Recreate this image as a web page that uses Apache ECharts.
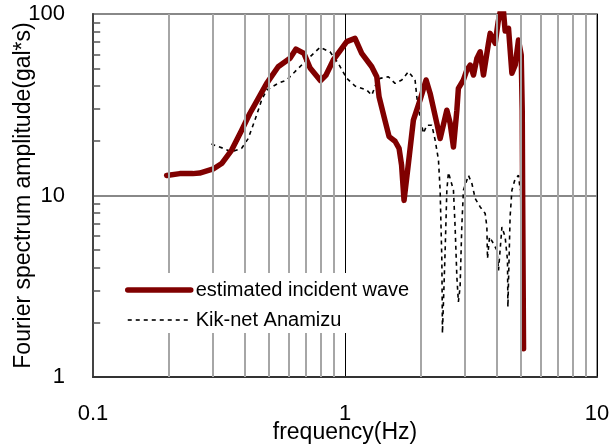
<!DOCTYPE html>
<html>
<head>
<meta charset="utf-8">
<script src="https://cdn.jsdelivr.net/npm/echarts@6/dist/echarts.min.js"></script>
<style>
  html, body { margin: 0; padding: 0; background: #fff; }
  #spectrum-chart { width: 616px; height: 445px; }
</style>
</head>
<body>
<div id="spectrum-chart"></div>
<script>
//---------------------Data---------------------
// estimated incident wave
let incident_freq = [0.196, 0.221, 0.249, 0.265, 0.30, 0.324, 0.355, 0.389, 0.419, 0.453, 0.489, 0.543,
    0.605, 0.639, 0.687, 0.727, 0.80, 0.841, 0.899, 1.016, 1.096, 1.165, 1.277, 1.337, 1.365, 1.429,
    1.496, 1.58, 1.639, 1.677, 1.715, 1.785, 1.868, 1.986, 2.098, 2.177, 2.314, 2.385, 2.536, 2.614,
    2.694, 2.779, 2.818, 2.951, 3.044, 3.14, 3.236, 3.336, 3.439, 3.544, 3.709, 3.767, 3.945, 4.05,
    4.13, 4.256, 4.32, 4.455, 4.596, 4.737, 4.88, 5.003, 5.05, 5.07, 5.11];
let incident_amp = [12.9, 13.2, 13.2, 13.3, 14.0, 15.0, 17.8, 22.9, 28.3, 34.3, 41.5, 51.2,
    57.0, 64.1, 60.7, 50.4, 42.9, 46.1, 55.8, 70.4, 73.4, 60.7, 51.2, 45.1, 35.0, 27.1,
    21.1, 19.9, 18.2, 14.7, 9.4, 15.0, 26.0, 33.6, 43.3, 36.5, 25.0, 20.6, 29.5, 25.0,
    18.5, 29.5, 38.9, 43.3, 49.1, 52.3, 46.1, 56.9, 61.9, 46.1, 68.9, 78.2, 68.9, 90,
    103, 103, 80.6, 83.4, 47.1, 52.3, 71.9, 59.4, 29.5, 9.4, 1.43];
// Kik-net Anamizu record
let anamizu_freq = [0.295, 0.3285, 0.355, 0.389, 0.413, 0.439, 0.467, 0.489, 0.543, 0.587, 0.633, 0.705,
    0.796, 0.872, 0.94, 1.016, 1.096, 1.22, 1.277, 1.337, 1.377, 1.486, 1.58, 1.68, 1.785, 1.897,
    1.927, 1.973, 2.047, 2.112, 2.211, 2.279, 2.349, 2.385, 2.423, 2.436, 2.497, 2.536, 2.573, 2.694,
    2.735, 2.779, 2.818, 2.862, 2.907, 2.951, 3.09, 3.188, 3.286, 3.439, 3.60, 3.656, 3.677, 3.745,
    3.884, 4.007, 4.066, 4.195, 4.32, 4.414, 4.43, 4.52, 4.596, 4.737, 4.88, 4.96];
let anamizu_amp = [19.2, 18.2, 17.4, 18.2, 20.6, 26.0, 33.6, 38.1, 41.5, 43.3, 48.1, 55.8,
    65.5, 61.9, 53.5, 44.2, 40.1, 38.1, 35.7, 42.3, 44.2, 45.1, 41.5, 43.3, 48.1, 43.3,
    35.0, 28.3, 22.0, 24.4, 24.4, 20.2, 15.7, 10.7, 4.40, 1.74, 4.99, 10.7, 13.4, 10.7,
    6.71, 3.56, 2.59, 3.13, 6.71, 10.7, 12.9, 11.65, 9.63, 8.65, 7.96, 6.71, 4.49, 5.91,
    5.43, 4.99, 3.87, 6.71, 5.91, 4.40, 2.43, 7.62, 10.7, 12.4, 12.9, 10.7];
// minor grid / tick positions
let x_minor_ticks = [0.2, 0.3, 0.4, 0.5, 0.6, 0.7, 0.8, 0.9, 2, 3, 4, 5, 6, 7, 8, 9];
let y_minor_ticks = [2, 3, 4, 5, 6, 7, 8, 9, 20, 30, 40, 50, 60, 70, 80, 90];

let incident_data = incident_freq.map((f, i) => [f, incident_amp[i]]);
let anamizu_data = anamizu_freq.map((f, i) => [f, anamizu_amp[i]]);

// Get dom in html
let spectrum_chart_dom = document.getElementById("spectrum-chart");
let spectrum_chart = echarts.init(spectrum_chart_dom);
let chart_font = "Liberation Sans";
//---------------------Series---------------------
let grid_lines_series = {
    type: 'line',
    name: 'grid',
    data: [],
    z: 1,
    silent: true,
    markLine: {
        silent: true,
        symbol: 'none',
        animation: false,
        label: {show: false},
        lineStyle: {color: '#a6a6a6', width: 2, type: 'solid'},
        data: x_minor_ticks.map(v => ({xAxis: v}))
            .concat(y_minor_ticks.map(v => [
                {coord: [0.1, v], lineStyle: {color: '#555', width: 1.5, type: 'solid'}},
                {coord: [0.1068, v]}
            ]))
    }
};
let anamizu_series = {
    type: 'line',
    name: 'Kik-net Anamizu',
    data: anamizu_data,
    symbol: 'none',
    z: 3,
    lineStyle: {color: '#000', width: 1.6, type: [4, 4]},
    itemStyle: {color: '#000'}
};
let incident_series = {
    type: 'line',
    name: 'estimated incident wave',
    data: incident_data,
    symbol: 'none',
    z: 4,
    lineStyle: {color: '#800000', width: 5.5, cap: 'round', join: 'round'},
    itemStyle: {color: '#800000'}
};
//------------------Generate Graph------------------
let spectrum_chart_option = {
    backgroundColor: '#fff',
    animation: false,
    grid: {
        left: 93, right: 19, top: 14, bottom: 68,
        containLabel: false,
        outerBoundsMode: 'none',
        show: true, borderColor: '#999', borderWidth: 2
    },
    legend: {
        data: [
            {name: 'estimated incident wave', lineStyle: {width: 5.5, cap: 'round'}},
            {name: 'Kik-net Anamizu', lineStyle: {width: 1.6}}
        ],
        orient: 'vertical',
        left: 120, top: 273,
        z: 10,
        padding: [7, 7, 3, 5],
        itemGap: 10,
        itemWidth: 63,
        itemHeight: 20,
        backgroundColor: '#fff',
        itemStyle: {opacity: 0},
        textStyle: {fontFamily: chart_font, fontSize: 20, color: '#000'}
    },
    xAxis: {
        type: 'log',
        logBase: 10,
        min: 0.1,
        max: 10,
        name: 'frequency(Hz)',
        nameLocation: 'middle',
        nameGap: 44,
        nameMoveOverlap: false,
        nameTextStyle: {fontFamily: chart_font, fontSize: 23, color: '#000'},
        axisLine: {lineStyle: {color: '#333', width: 2}},
        axisTick: {show: false},
        axisLabel: {fontFamily: chart_font, fontSize: 22, color: '#000', margin: 26},
        splitLine: {show: true, lineStyle: {color: '#000', width: 1}}
    },
    yAxis: {
        type: 'log',
        logBase: 10,
        min: 1,
        max: 100,
        name: 'Fourier spectrum amplitude(gal*s)',
        nameLocation: 'middle',
        nameGap: 58,
        nameMoveOverlap: false,
        nameTextStyle: {fontFamily: chart_font, fontSize: 23, color: '#000'},
        axisLine: {lineStyle: {color: '#444', width: 2}},
        axisTick: {show: false},
        axisLabel: {fontFamily: chart_font, fontSize: 22, color: '#000', margin: 28},
        splitLine: {show: true, lineStyle: {color: '#888', width: 2}}
    },
    series: [grid_lines_series, anamizu_series, incident_series]
};
if (spectrum_chart_option && typeof spectrum_chart_option === "object") {
    spectrum_chart.setOption(spectrum_chart_option, true);
}
</script>
</body>
</html>
